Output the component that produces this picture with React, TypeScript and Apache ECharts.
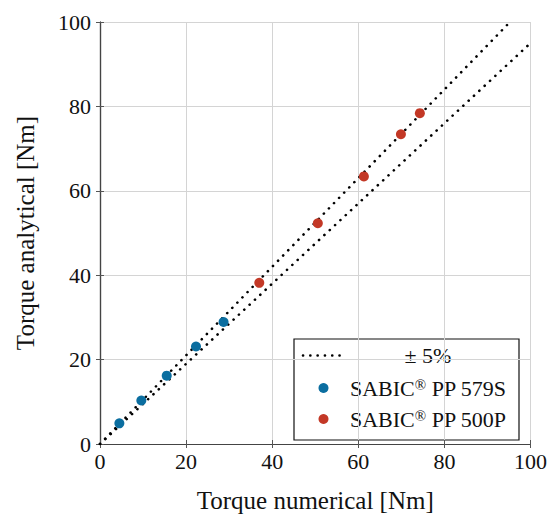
import React, { useEffect, useRef } from "react";
import * as echarts from "echarts";

// Data
const pp579sX = [4.5, 9.6, 15.5, 22.3, 28.7];
const pp579sY = [4.9, 10.3, 16.2, 23.1, 28.9];
const pp500pX = [37.0, 50.6, 61.3, 69.9, 74.3];
const pp500pY = [38.2, 52.3, 63.4, 73.4, 78.4];
const upperBound = [[0, 0], [95.24, 100]];
const lowerBound = [[0, 0], [100, 95]];
const tickValues = [0, 20, 40, 60, 80, 100];

const FONT = "'Liberation Serif', 'Times New Roman', serif";
const BLUE = "#0b6ea0";
const RED = "#c33826";

export default function App() {
  const ref = useRef<HTMLDivElement>(null);
  useEffect(() => {
    if (!ref.current) return;
    const chart = echarts.init(ref.current, undefined, { renderer: "svg" });
    const axisCommon = {
      type: "value",
      min: tickValues[0],
      max: tickValues[tickValues.length - 1],
      interval: 20,
      axisLine: { show: true, lineStyle: { color: "#444", width: 1.2 } },
      axisTick: { show: true, inside: true, length: 4, lineStyle: { color: "#555" } },
    };
    const dotted = {
      color: "#000",
      width: 2.6,
      type: [0.1, 7.2],
      cap: "round",
    };
    const legendTextStyle = { fontFamily: FONT, fontSize: 22, fill: "#111" };
    chart.setOption({
      animation: false,
      backgroundColor: "#fff",
      grid: { left: 100, top: 22, width: 433, height: 432 },
      xAxis: [
        {
          ...axisCommon,
          position: "bottom",
          name: "Torque numerical [Nm]",
          nameLocation: "middle",
          nameGap: 44,
          nameTextStyle: { fontFamily: FONT, fontSize: 25, color: "#111" },
          axisLabel: { fontFamily: FONT, fontSize: 22, color: "#111", margin: 6 },
          splitLine: { show: true, lineStyle: { color: "#d4d4d4", width: 1 } },
        },
        {
          ...axisCommon,
          position: "top",
          axisLabel: { show: false },
          splitLine: { show: false },
        },
      ],
      yAxis: [
        {
          ...axisCommon,
          position: "left",
          name: "Torque analytical [Nm]",
          nameLocation: "middle",
          nameGap: 62,
          nameTextStyle: { fontFamily: FONT, fontSize: 25, color: "#111" },
          axisLabel: { fontFamily: FONT, fontSize: 22, color: "#111", margin: 9 },
          splitLine: { show: true, lineStyle: { color: "#d4d4d4", width: 1 } },
        },
        {
          ...axisCommon,
          position: "right",
          axisLabel: { show: false },
          splitLine: { show: false },
        },
      ],
      series: [
        {
          type: "line",
          data: upperBound,
          symbol: "none",
          lineStyle: dotted,
          clip: true,
          z: 3,
        },
        {
          type: "line",
          data: lowerBound,
          symbol: "none",
          lineStyle: dotted,
          clip: true,
          z: 3,
        },
        {
          type: "scatter",
          data: pp579sX.map((x, i) => [x, pp579sY[i]]),
          symbol: "circle",
          symbolSize: 10,
          itemStyle: { color: BLUE, opacity: 1 },
          z: 4,
        },
        {
          type: "scatter",
          data: pp500pX.map((x, i) => [x, pp500pY[i]]),
          symbol: "circle",
          symbolSize: 10,
          itemStyle: { color: RED, opacity: 1 },
          z: 4,
        },
      ],
      graphic: [
        {
          type: "group",
          z: 100,
          children: [
            {
              type: "rect",
              shape: { x: 294, y: 339, width: 225, height: 101 },
              style: { fill: "#fff", stroke: "#111", lineWidth: 1.2 },
            },
            {
              type: "line",
              shape: { x1: 303, y1: 355.5, x2: 340, y2: 355.5 },
              style: { stroke: "#000", lineWidth: 2.6, lineDash: [0.1, 7.2], lineCap: "round" },
            },
            {
              type: "text",
              x: 428,
              y: 355,
              style: {
                ...legendTextStyle,
                text: "± 5%",
                align: "center",
                verticalAlign: "middle",
              },
            },
            {
              type: "circle",
              shape: { cx: 323.5, cy: 388, r: 5 },
              style: { fill: BLUE },
            },
            {
              type: "text",
              x: 350,
              y: 388,
              style: {
                text: "{a|SABIC}{s|®}{a| PP 579S}",
                align: "left",
                verticalAlign: "middle",
                rich: {
                  a: { fontFamily: FONT, fontSize: 22, fill: "#111", verticalAlign: "bottom" },
                  s: { fontFamily: FONT, fontSize: 15, fill: "#111", verticalAlign: "top" },
                },
              },
            },
            {
              type: "circle",
              shape: { cx: 323.5, cy: 419, r: 5 },
              style: { fill: RED },
            },
            {
              type: "text",
              x: 350,
              y: 419,
              style: {
                text: "{a|SABIC}{s|®}{a| PP 500P}",
                align: "left",
                verticalAlign: "middle",
                rich: {
                  a: { fontFamily: FONT, fontSize: 22, fill: "#111", verticalAlign: "bottom" },
                  s: { fontFamily: FONT, fontSize: 15, fill: "#111", verticalAlign: "top" },
                },
              },
            },
          ],
        },
      ],
    });
    return () => chart.dispose();
  }, []);
  return (
    <div
      ref={ref}
      style={{ position: "fixed", left: 0, top: 0, width: 550, height: 518 }}
    />
  );
}
